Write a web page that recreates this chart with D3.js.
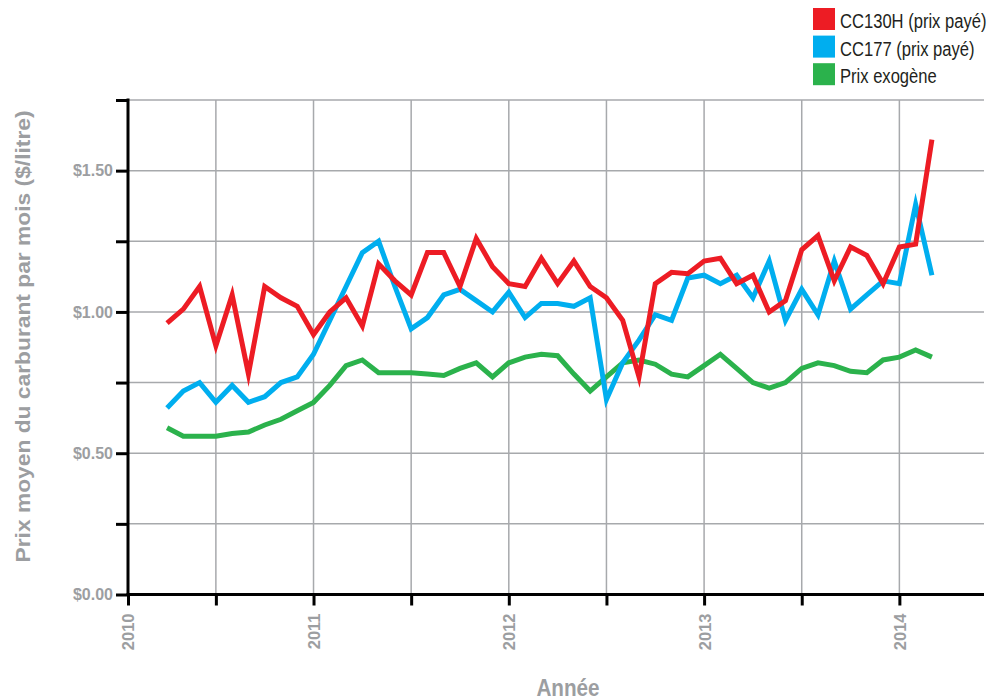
<!DOCTYPE html>
<html lang="fr">
<head>
<meta charset="utf-8">
<title>Prix moyen du carburant par mois</title>
<script src="https://cdn.jsdelivr.net/npm/d3@7"></script>
<style>
  html, body { margin: 0; padding: 0; background: #fff; }
  svg { display: block; }
  .tick-label { font-family: "Liberation Sans", Arial, sans-serif; font-weight: bold; fill: #9c9ea1; }
  .axis-title { font-family: "Liberation Sans", Arial, sans-serif; font-weight: bold; fill: #9c9ea1; }
  .legend-text { font-family: "Liberation Sans", Arial, sans-serif; fill: #231f20; }
</style>
</head>
<body>
<svg id="chart" width="988" height="700"></svg>
<script>
// Monthly observations, April 2010 to March 2014
const months = [
  "2010-04","2010-05","2010-06","2010-07","2010-08","2010-09","2010-10","2010-11","2010-12",
  "2011-01","2011-02","2011-03","2011-04","2011-05","2011-06","2011-07","2011-08","2011-09","2011-10","2011-11","2011-12",
  "2012-01","2012-02","2012-03","2012-04","2012-05","2012-06","2012-07","2012-08","2012-09","2012-10","2012-11","2012-12",
  "2013-01","2013-02","2013-03","2013-04","2013-05","2013-06","2013-07","2013-08","2013-09","2013-10","2013-11","2013-12",
  "2014-01","2014-02","2014-03"
];

// Prix payé CC130H ($/litre)
const cc130h = [
  0.96, 1.01, 1.09, 0.88, 1.06, 0.78, 1.09, 1.05, 1.02, 0.92,
  1.00, 1.05, 0.95, 1.17, 1.11, 1.06, 1.21, 1.21, 1.09, 1.26,
  1.16, 1.10, 1.09, 1.19, 1.10, 1.18, 1.09, 1.05, 0.97, 0.77,
  1.10, 1.14, 1.135, 1.18, 1.19, 1.10, 1.13, 1.00, 1.04, 1.22,
  1.27, 1.11, 1.23, 1.20, 1.10, 1.23, 1.24, 1.61
];

// Prix payé CC177 ($/litre)
const cc177 = [
  0.66, 0.72, 0.75, 0.68, 0.74, 0.68, 0.70, 0.75, 0.77, 0.85,
  0.97, 1.09, 1.21, 1.25, 1.09, 0.94, 0.98, 1.06, 1.08, 1.04,
  1.00, 1.07, 0.98, 1.03, 1.03, 1.02, 1.05, 0.69, 0.82, 0.90,
  0.99, 0.97, 1.12, 1.13, 1.10, 1.13, 1.05, 1.18, 0.97, 1.08,
  0.99, 1.18, 1.01, 1.06, 1.11, 1.10, 1.38, 1.13
];

// Prix exogène ($/litre)
const exogene = [
  0.59, 0.56, 0.56, 0.56, 0.57, 0.575, 0.60, 0.62, 0.65, 0.68,
  0.74, 0.81, 0.83, 0.785, 0.785, 0.785, 0.78, 0.775, 0.80, 0.82,
  0.77, 0.82, 0.84, 0.85, 0.845, 0.78, 0.72, 0.77, 0.82, 0.83,
  0.815, 0.78, 0.77, 0.81, 0.85, 0.80, 0.75, 0.73, 0.75, 0.80,
  0.82, 0.81, 0.79, 0.785, 0.83, 0.84, 0.865, 0.84
];

const seriesNames = ["CC130H (prix payé)", "CC177 (prix payé)", "Prix exogène"];
const seriesColors = ["#ed1c24", "#00aeef", "#2bb24c"];
const yearLabels = ["2010", "2011", "2012", "2013", "2014"];
const yTicks = [0, 0.25, 0.5, 0.75, 1.0, 1.25, 1.5, 1.75];

const baseYear = 2010;
const monthIndex = s => (+s.slice(0, 4) - baseYear) * 12 + (+s.slice(5, 7) - 1);

const svg = d3.select("#chart");
const plot = { left: 128, right: 984, top: 100, bottom: 594.5 };

// x: months since January 2010
const x = d3.scaleLinear().domain([0.6, 53.2]).range([plot.left, plot.right]);
const y = d3.scaleLinear().domain([0, 1.75]).range([plot.bottom, plot.top]);

// half-year divisions
const halfYears = d3.range(6, 49, 6);
const xTickValues = [x.domain()[0]].concat(halfYears);

// grid
const grid = svg.append("g").attr("stroke", "#a7a9ac").attr("stroke-width", 1.5);
grid.selectAll(".hgrid").data(yTicks.filter(d => d > 0)).join("line")
  .attr("x1", plot.left).attr("x2", plot.right)
  .attr("y1", d => y(d)).attr("y2", d => y(d));
grid.selectAll(".vgrid").data(halfYears).join("line")
  .attr("x1", d => x(d)).attr("x2", d => x(d))
  .attr("y1", plot.top).attr("y2", plot.bottom);

// series lines
const rows = [cc130h, cc177, exogene].map((vals, i) => ({
  name: seriesNames[i],
  color: seriesColors[i],
  points: months.map((m, j) => ({ m: monthIndex(m), v: vals[j] }))
}));

const line = d3.line().x(d => x(d.m)).y(d => y(d.v));

svg.append("g").selectAll("path").data(rows.slice().reverse()).join("path")
  .attr("d", d => line(d.points))
  .attr("fill", "none")
  .attr("stroke", d => d.color)
  .attr("stroke-width", 5)
  .attr("stroke-linejoin", "miter")
  .attr("stroke-miterlimit", 10);

// y axis
const yAxis = d3.axisLeft(y).tickValues(yTicks).tickSize(12).tickPadding(3)
  .tickFormat(d => (Math.round(d * 100) % 50 === 0) ? "$" + d.toFixed(2) : "");
const gy = svg.append("g").attr("transform", `translate(${plot.left},0)`).call(yAxis);
gy.select(".domain").remove();
gy.selectAll(".tick line").attr("stroke", "#000").attr("stroke-width", 3);
gy.selectAll(".tick text").attr("class", "tick-label").style("font-size", "16px");
svg.append("line")
  .attr("x1", plot.left).attr("x2", plot.left)
  .attr("y1", plot.top - 1.5).attr("y2", plot.bottom)
  .attr("stroke", "#000").attr("stroke-width", 3);

// x axis
const xAxis = d3.axisBottom(x).tickValues(xTickValues).tickSize(11).tickPadding(0)
  .tickFormat((d, i) => i === 0 ? yearLabels[0] : (d % 12 === 0 ? yearLabels[d / 12] : ""));
const gx = svg.append("g").attr("transform", `translate(0,${plot.bottom})`).call(xAxis);
gx.select(".domain").remove();
gx.selectAll(".tick line").attr("stroke", "#000").attr("stroke-width", 3);
gx.selectAll(".tick text")
  .attr("class", "tick-label")
  .style("font-size", "16.5px")
  .attr("text-anchor", "end")
  .attr("transform", "rotate(-90)")
  .attr("x", -19).attr("y", 0).attr("dy", "0.36em");
svg.append("line")
  .attr("x1", plot.left - 1.5).attr("x2", plot.right)
  .attr("y1", plot.bottom).attr("y2", plot.bottom)
  .attr("stroke", "#000").attr("stroke-width", 3);

// axis titles
svg.append("text").attr("class", "axis-title")
  .attr("transform", "translate(568,696) scale(0.9,1)")
  .attr("text-anchor", "middle")
  .style("font-size", "23px")
  .text("Année");

svg.append("text").attr("class", "axis-title")
  .attr("transform", "translate(29.5,336.5) rotate(-90)")
  .attr("text-anchor", "middle")
  .attr("textLength", 452)
  .attr("lengthAdjust", "spacingAndGlyphs")
  .style("font-size", "21px")
  .text("Prix moyen du carburant par mois ($/litre)");

// legend (condensed lettering)
const legend = svg.append("g").attr("transform", "translate(813,8)");
const item = legend.selectAll("g").data(rows).join("g")
  .attr("transform", (d, i) => `translate(0,${i * 27.6})`);
item.append("rect").attr("width", 22).attr("height", 22).attr("fill", d => d.color);
item.append("text").attr("class", "legend-text")
  .attr("transform", "translate(27,20) scale(0.79,1)")
  .style("font-size", "21px")
  .text(d => d.name);
</script>
</body>
</html>
